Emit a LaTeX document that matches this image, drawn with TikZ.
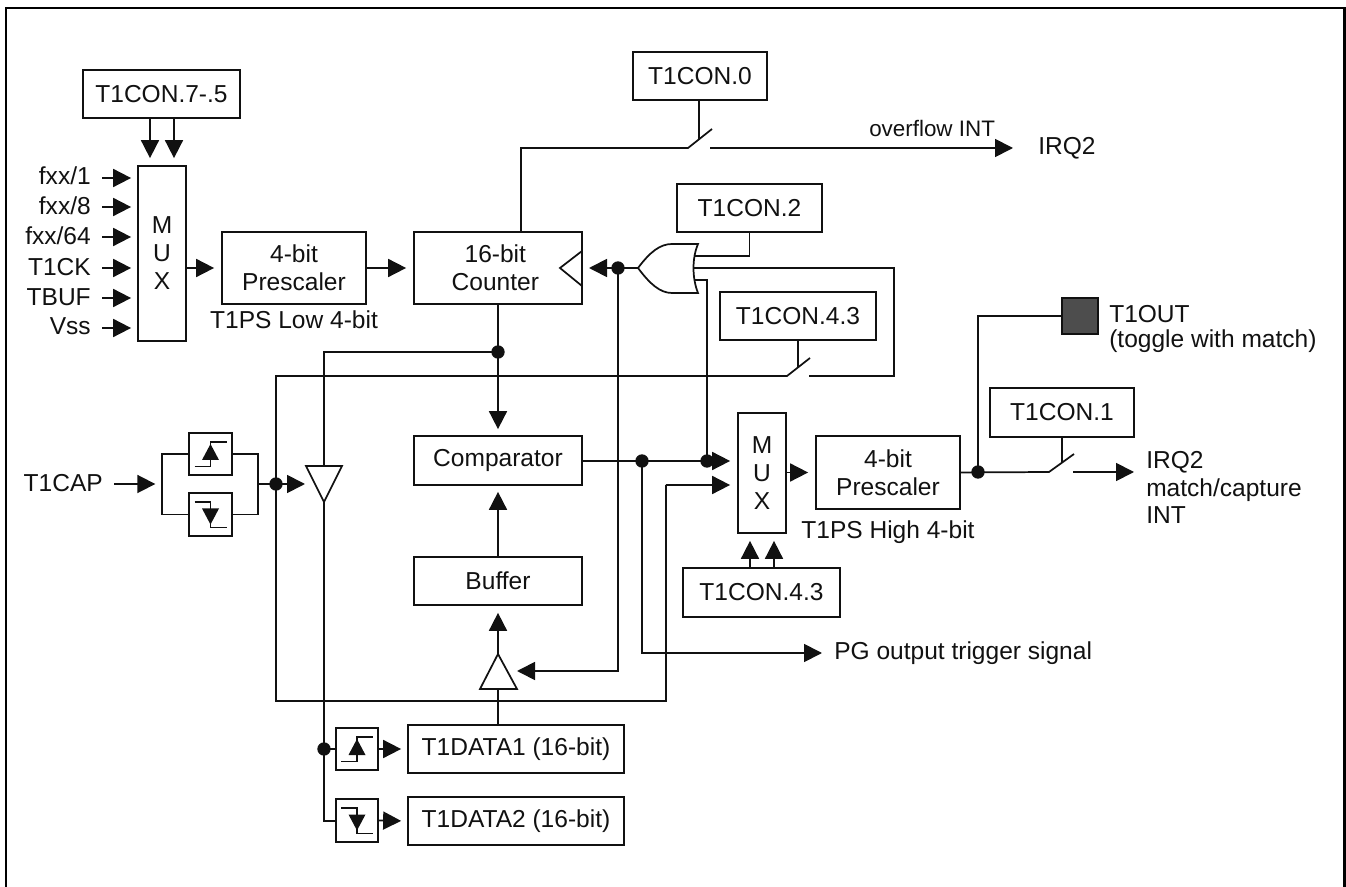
\documentclass[tikz,border=0pt]{standalone}
\usepackage{fontspec}
\setmainfont{Liberation Sans}
\usetikzlibrary{arrows.meta,calc}
\definecolor{ink}{HTML}{111111}
\definecolor{padfill}{HTML}{4D4D4D}
\tikzset{
  wire/.style={line width=1.3pt,draw=ink},
  arr/.style={wire,-{Triangle[length=13.5pt,width=13.5pt]}},
  box/.style={draw=ink,line width=1.3pt,inner sep=0pt,align=center,font=\fontsize{18.4}{21}\selectfont,text=ink},
  lab/.style={inner sep=0pt,font=\fontsize{18.4}{21}\selectfont,text=ink,align=left},
  dotn/.style={circle,fill=ink,inner sep=0pt,minimum size=10pt},
  tri/.style={draw=ink,line width=1.3pt,fill=white,line join=miter},
}
% \pxbox{name}{x1}{y1}{x2}{y2}{text}
\newcommand{\pxbox}[6]{%
  \pgfmathsetmacro{\bw}{(#4-#2)*0.75}\pgfmathsetmacro{\bh}{(#5-#3)*0.75}%
  \node[box,minimum width=\bw pt,minimum height=\bh pt] (#1) at ({(#2+#4)/2},{(#3+#5)/2}) {#6};}
% \edgeup{name}{x1}{y1}{x2}{y2}
\newcommand{\edgeup}[5]{%
  \pxbox{#1}{#2}{#3}{#4}{#5}{}
  \begin{scope}[shift={(#1.center)}]
    \draw[wire,line width=1.2pt] (-16,12.5) -- (0,12.5) -- (0,-12) -- (16,-12);
    \fill[ink] (0,-10) -- (8.5,6) -- (-8.5,6) -- cycle;
  \end{scope}}
\newcommand{\edgedown}[5]{%
  \pxbox{#1}{#2}{#3}{#4}{#5}{}
  \begin{scope}[shift={(#1.center)}]
    \draw[wire,line width=1.2pt] (-16,-12.5) -- (0,-12.5) -- (0,13) -- (16,13);
    \fill[ink] (0,10) -- (8.5,-6) -- (-8.5,-6) -- cycle;
  \end{scope}}
\begin{document}
\begin{tikzpicture}[x=0.75pt,y=-0.75pt]
\useasboundingbox (0,0) rectangle (1346,887);
\draw[draw=black,line width=1.6pt] (6,887) -- (6,8) -- (1344.5,8) -- (1344.5,887);

% boxes
\pxbox{ctlA}{83}{70}{240}{118}{T1CON.7-.5}
\pxbox{muxA}{138}{166}{186}{341}{M\\U\\X}
\pxbox{preA}{222}{232}{366}{304}{4-bit\\Prescaler}
\pxbox{cnt}{414}{232}{582}{304}{\hspace*{-4pt}16-bit\\\hspace*{-4pt}Counter}
\pxbox{ctlB}{633}{52}{767}{100}{T1CON.0}
\pxbox{ctlC}{677}{184}{822}{232}{T1CON.2}
\pxbox{ctlD}{720}{292}{876}{340}{T1CON.4.3}
\pxbox{cmp}{414}{436}{582}{485}{Comparator}
\pxbox{buf}{414}{557}{582}{605}{Buffer}
\pxbox{dataA}{408}{725}{624}{773}{T1DATA1 (16-bit)}
\pxbox{dataB}{408}{797}{624}{845}{T1DATA2 (16-bit)}
\pxbox{muxB}{738}{413}{786}{533}{M\\U\\X}
\pxbox{preB}{816}{436}{960}{509}{4-bit\\Prescaler}
\pxbox{ctlE}{683}{568}{840}{617}{T1CON.4.3}
\pxbox{ctlF}{990}{388}{1134}{437}{T1CON.1}
\node[draw=ink,line width=1.3pt,fill=padfill,minimum size=27pt,inner sep=0pt] (pad) at (1080,316) {};
\edgeup{eA}{189}{433}{232}{475}
\edgedown{eB}{189}{493}{232}{536}
\edgeup{eC}{336}{728}{378}{770}
\edgedown{eD}{336}{799}{378}{842}

% clock triangle inside the counter
\draw[wire] (582,251) -- (560,268) -- (582,286);

% labels
\node[lab,anchor=base east] (lA) at (91,185) {fxx/1};
\node[lab,anchor=base east] (lB) at (91,215) {fxx/8};
\node[lab,anchor=base east] (lC) at (91,245) {fxx/64};
\node[lab,anchor=base east] (lD) at (91,276) {T1CK};
\node[lab,anchor=base east] (lE) at (91,306) {TBUF};
\node[lab,anchor=base east] (lF) at (91,335) {Vss};
\node[lab,anchor=base east] (lCap) at (103,492) {T1CAP};
\node[lab,anchor=base] (lLow) at (294,329) {T1PS Low 4-bit};
\node[lab,anchor=base] (lHigh) at (888,539) {T1PS High 4-bit};
\node[lab,anchor=base west,font=\fontsize{16.8}{20}\selectfont] (lOvf) at (869,137) {overflow INT};
\node[lab,anchor=base west] (lIrqA) at (1038,155) {IRQ2};
\node[lab,anchor=base west] (lOut) at (1109,323) {T1OUT};
\node[lab,anchor=base west] (lTog) at (1109,348) {(toggle with match)};
\node[lab,anchor=base west] (lIrqB) at (1146,469) {IRQ2};
\node[lab,anchor=base west] (lMc) at (1146,497) {match/capture};
\node[lab,anchor=base west] (lInt) at (1146,524) {INT};
\node[lab,anchor=base west] (lPg) at (834,659) {PG output trigger signal};

% gates as drawn nodes
\coordinate (orOut) at (638,268);
\draw[tri] (orOut) .. controls (650,252) and (660,244) .. (672,244) -- (698,244)
  .. controls (692,258) and (692,278) .. (698,293) -- (672,293)
  .. controls (660,293) and (650,284) .. (orOut) -- cycle;
\coordinate (orA) at (695,256);
\coordinate (orB) at (693,268);
\coordinate (orC) at (695,280);
\draw[tri] (306,466) -- (342,466) -- (324,502) -- cycle;
\coordinate (tdIn) at (324,466);
\coordinate (tdOut) at (324,502);
\draw[tri] (480,689) -- (517,689) -- (498,654) -- cycle;
\coordinate (tuIn) at (498,689);
\coordinate (tuOut) at (498,654);
\coordinate (tuSide) at (517,671);

% junction coordinates
\coordinate (jCnt) at (498,352);
\coordinate (jClk) at (618,268);
\coordinate (jCap) at (276,484);
\coordinate (jCmp) at (642,461);
\coordinate (jOr) at (707,461);
\coordinate (jPre) at (978,472);
\coordinate (jEdge) at (324,749);

% switches
\coordinate (swBa) at (688,148); \coordinate (swBb) at (712,129); \coordinate (swBc) at (710,148); \coordinate (swBm) at (699,139);
\coordinate (swDa) at (787,376); \coordinate (swDb) at (810,358); \coordinate (swDc) at (809,376); \coordinate (swDm) at (798,367);
\coordinate (swFa) at (1049,472); \coordinate (swFb) at (1074,454); \coordinate (swFc) at (1073,472); \coordinate (swFm) at (1062,463);

% connectors: MUX A
\foreach \nm/\yy in {lA/178,lB/207,lC/237,lD/268,lE/298,lF/328}{
  \coordinate (s\nm) at (102,\yy);
  \draw[arr,shorten >=4.5pt] (s\nm) -- (muxA.west |- s\nm);
}
\draw[arr,shorten >=5.25pt] (ctlA.south -| 150,0) -- (muxA.north -| 150,0);
\draw[arr,shorten >=5.25pt] (ctlA.south -| 174,0) -- (muxA.north -| 174,0);
\draw[arr,shorten >=5.25pt] (muxA.east |- preA) -- (preA.west);
\draw[arr,shorten >=5.25pt] (preA.east) -- (cnt.west);

% T1CON.0 overflow
\draw[wire] (cnt.north -| 521,0) |- (swBa) -- (swBb);
\draw[wire] (ctlB.south -| swBm) -- (swBm);
\coordinate (ovfEnd) at (1013,148);
\draw[arr] (swBc) -- (ovfEnd);

% clock
\draw[arr] (orOut) -- (589,268);
\node[dotn] (dClk) at (jClk) {};
\draw[wire] (orA) -- (orA -| ctlC) -- (ctlC.south);
\draw[wire] (orB) -- (894,268) -- (894,376) -- (swDc);
\draw[wire] (ctlD.south -| swDm) -- (swDm);
\draw[wire] (swDb) -- (swDa) -- (276,376) -- (276,701) -- (666,701) -- (666,485);
\draw[arr,shorten >=5.25pt] (666,485) -- (muxB.west |- 0,485);
\draw[wire] (orC) -- (707,280) -- (jOr);

% counter to comparator and capture path
\draw[arr,shorten >=4.5pt] (cnt.south) -- (cmp.north);
\draw[wire] (jCnt) -| (tdIn);
\draw[wire] (tdOut) -- (324,821) -- (eD.west |- 0,821);
\node[dotn] (dCnt) at (jCnt) {};
\draw[wire] (jEdge) -- (eC.west);
\node[dotn] (dEdge) at (jEdge) {};

% T1CAP
\draw[arr,shorten >=5pt] (114,484) -- (162,484);
\draw[wire] (eA.west) -| (162,484);
\draw[wire] (eB.west) -| (162,484);
\draw[wire] (eA.east) -| (258,484);
\draw[wire] (eB.east) -| (258,484);
\draw[wire] (258,484) -- (jCap);
\node[dotn] (dCap) at (jCap) {};
\draw[arr] (jCap) -- (305,484);

% edge detectors to data
\draw[arr,shorten >=4.5pt] (eC.east) -- (dataA.west);
\draw[arr,shorten >=4.5pt] (eD.east) -- (dataB.west);
\draw[wire] (dataA.north -| tuIn) -- (tuIn);
\draw[arr,shorten >=5.25pt] (tuOut) -- (buf.south -| tuOut);
\draw[arr,shorten >=4.5pt] (buf.north) -- (cmp.south);
\draw[arr] (jClk) -- (618,671) -- (tuSide);

% comparator out
\draw[arr,shorten >=5.25pt] (cmp.east |- jCmp) -- (muxB.west |- jCmp);
\node[dotn] (dCmp) at (jCmp) {};
\node[dotn] (dOr) at (jOr) {};
\draw[arr] (jCmp) |- (822,653);

% MUX B
\draw[arr,shorten >=5.25pt] (ctlE.north -| 750,0) -- (muxB.south -| 750,0);
\draw[arr,shorten >=5.25pt] (ctlE.north -| 774,0) -- (muxB.south -| 774,0);
\draw[arr,shorten >=5.25pt] (muxB.east |- preB) -- (preB.west);

% outputs
\draw[wire] (preB.east) -- (swFa) -- (swFb);
\draw[wire] (jPre) |- (pad.west);
\node[dotn] (dPre) at (jPre) {};
\draw[wire] (ctlF.south -| swFm) -- (swFm);
\coordinate (irqEnd) at (1134,472);
\draw[arr] (swFc) -- (irqEnd);
\end{tikzpicture}
\end{document}
